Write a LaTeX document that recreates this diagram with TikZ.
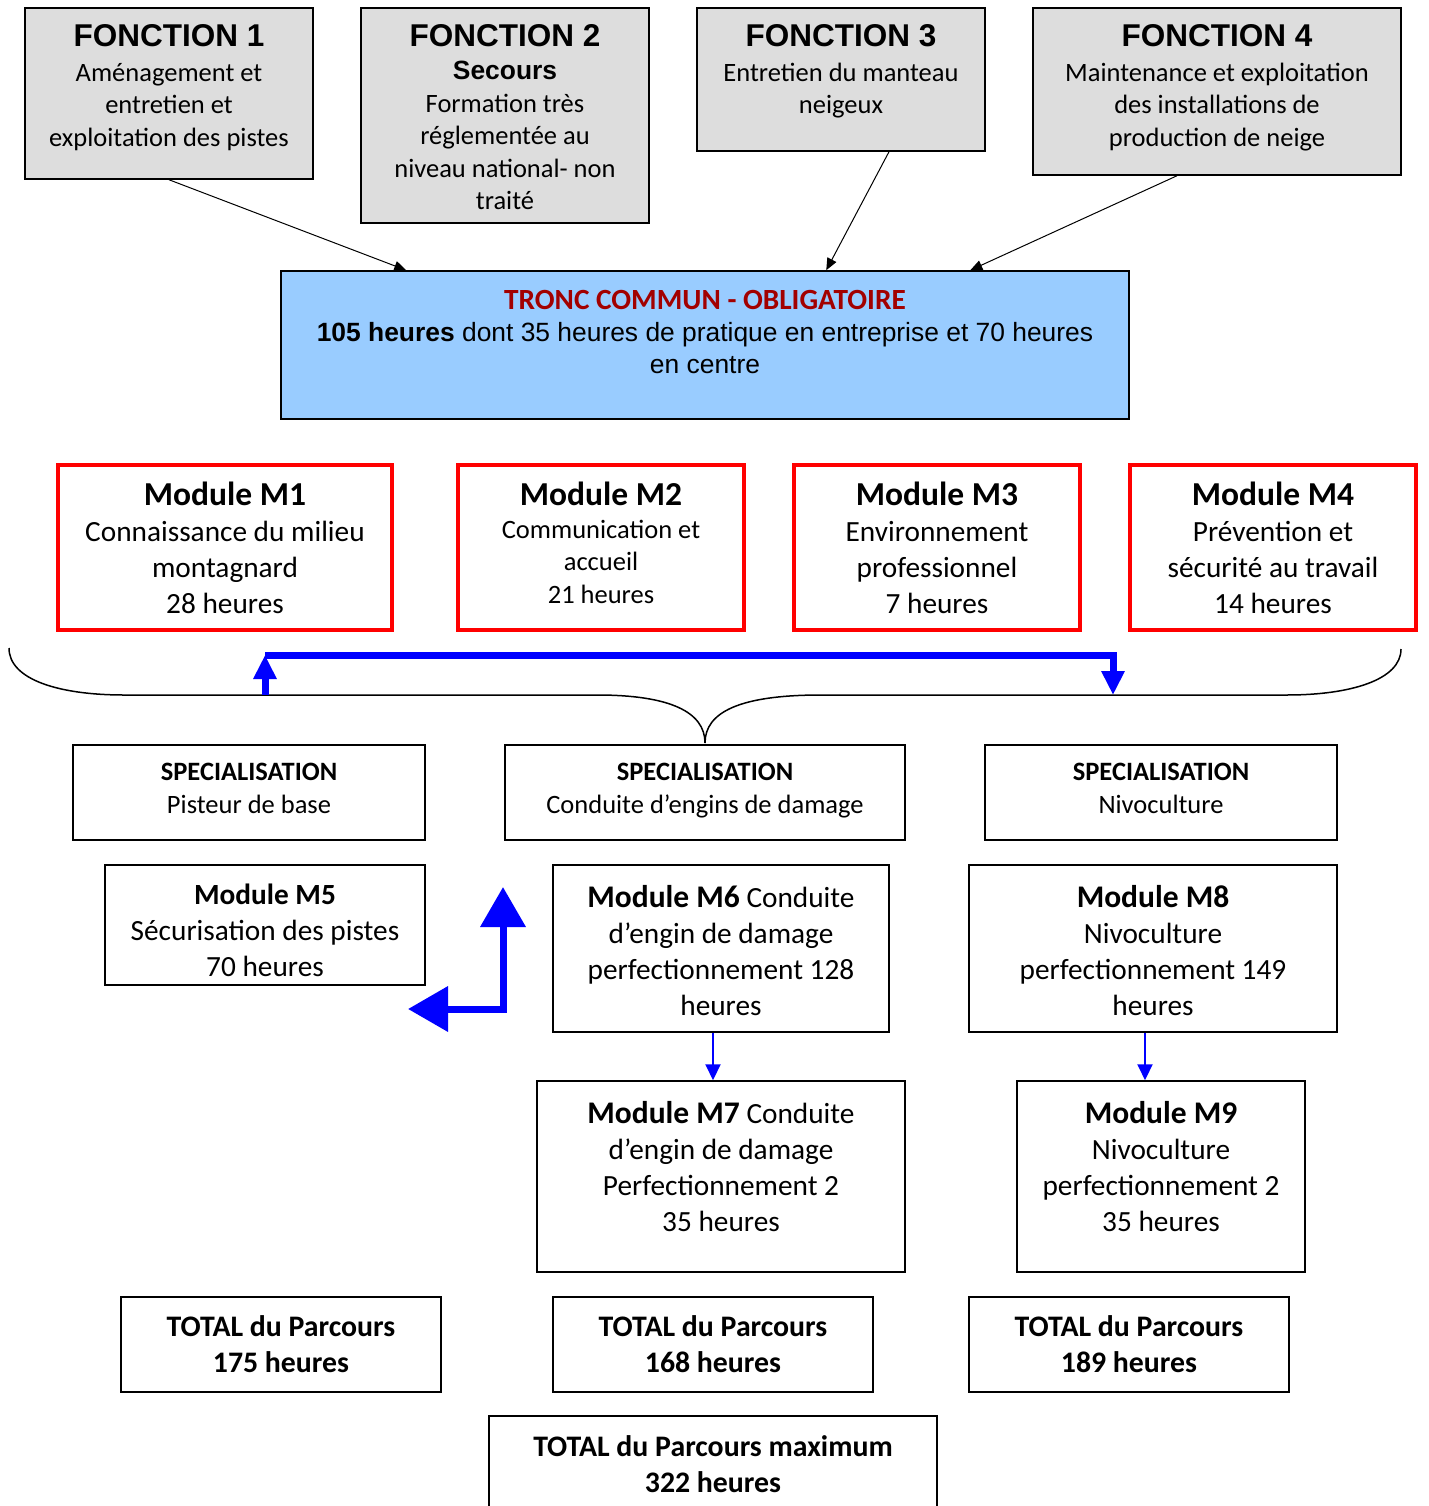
\documentclass[tikz,border=0pt]{standalone}
\usepackage{fontspec}
\setmainfont{Carlito}
\newfontfamily\arialfont{Liberation Sans}
\usepackage{xcolor}
\usetikzlibrary{arrows.meta}
\definecolor{boxgray}{HTML}{DDDDDD}
\definecolor{troncblue}{HTML}{99CCFF}
\definecolor{darkred}{HTML}{A20000}

% fixed size box, text from the top: width, height, top pad, text
\newcommand{\cellbox}[4]{\parbox[c][#2pt][t]{#1pt}{\centering\vspace*{#3pt}#4}}
\newcommand{\ftitle}{\arialfont\bfseries\fontsize{31.5}{33}\selectfont}
\newcommand{\fsmall}{\fontsize{26.5}{32.5}\selectfont}
\newcommand{\fbody}{\fontsize{29.3}{36}\selectfont}
\newcommand{\mtitle}{\fontsize{33.5}{36}\selectfont\bfseries}
\newcommand{\mtitleb}{\fontsize{31.5}{36}\selectfont\bfseries}
\newcommand{\ttotal}{\fontsize{29.8}{36}\selectfont\bfseries}

\tikzset{
  fonction/.style={draw, line width=1.5pt, fill=boxgray, inner sep=0pt},
  troncbox/.style={draw, line width=1.5pt, fill=troncblue, inner sep=0pt},
  module/.style={draw=red, line width=4.5pt, inner sep=0pt},
  plainbox/.style={draw, line width=1.5pt, inner sep=0pt},
  link/.style={-{Triangle[length=12pt,width=10pt]}, line width=1pt},
  thinblue/.style={blue, line width=2pt, -{Triangle[length=16pt,width=15pt]}},
  thickblue/.style={blue, line width=7pt, -{Triangle[length=24pt,width=22pt]}},
  bigblue/.style={blue, line width=7pt, {Triangle[length=40pt,width=44pt]}-{Triangle[length=40pt,width=44pt]}},
}

\begin{document}
\begin{tikzpicture}[x=1pt, y=-1pt, font=\fsmall]
  \useasboundingbox (0,0) rectangle (1428,1506);
  % Fonctions
  \node[fonction] (f1) at (169,93.5) {\cellbox{288}{171}{16.5}{{\ftitle FONCTION 1}\\[2.5pt] Aménagement et\\ entretien et\\ exploitation des pistes}};
  \node[fonction] (f2) at (505,115.5) {\cellbox{288}{215}{16.5}{{\ftitle FONCTION 2}\\[1pt] {\arialfont\bfseries\fontsize{26.4}{32}\selectfont Secours}\\ Formation très\\ réglementée au\\ niveau national- non\\ traité}};
  \node[fonction] (f3) at (841,79.5) {\cellbox{288}{143}{16.5}{{\ftitle FONCTION 3}\\[2.5pt] Entretien du manteau\\ neigeux}};
  \node[fonction] (f4) at (1217,91.5) {\cellbox{368}{167}{16.5}{{\ftitle FONCTION 4}\\[2.5pt] Maintenance et exploitation\\ des installations de\\ production de neige}};
  % Tronc commun
  \node[troncbox] (tronc) at (705,345) {\cellbox{848}{148}{19.5}{{\fontsize{29.3}{32}\selectfont\bfseries\color{darkred}TRONC COMMUN - OBLIGATOIRE}\\ {\arialfont\fontsize{26.4}{32}\selectfont\textbf{105 heures} dont 35 heures de pratique en entreprise et 70 heures\\[-1pt] en centre}}};
  \draw[link] (f1.south) -- ([xshift=126pt]tronc.north west);
  \draw[link] ([xshift=48pt]f3.south) -- ([xshift=546pt]tronc.north west);
  \draw[link] ([xshift=-40pt]f4.south) -- ([xshift=690pt]tronc.north west);
  % Modules M1-M4
  \node[module] (m1) at (225,547.5) {\cellbox{334}{165}{17}{{\mtitle Module M1}\\ \fbody Connaissance du milieu\\ montagnard\\ 28 heures}};
  \node[module] (m2) at (601,547.5) {\cellbox{286}{165}{17}{{\mtitle Module M2}\\ Communication et\\ accueil\\ 21 heures}};
  \node[module] (m3) at (937,547.5) {\cellbox{286}{165}{17}{{\mtitle Module M3}\\ \fbody Environnement\\ professionnel\\ 7 heures}};
  \node[module] (m4) at (1273,547.5) {\cellbox{286}{165}{17}{{\mtitle Module M4}\\ \fbody Prévention et\\ sécurité au travail\\ 14 heures}};
  % Accolade
  \draw[line width=1.5pt] (9,648) .. controls (9,680) and (60,695) .. (124,695) -- (597,695)
    .. controls (670,695) and (705,712) .. (705,743)
    .. controls (705,712) and (740,695) .. (821,695) -- (1287,695)
    .. controls (1350,695) and (1401,680) .. (1401,649);
  \coordinate (braceL) at (265,695);
  \coordinate (loopL) at (265,655);
  \coordinate (braceR) at (1113,695);
  \draw[thickblue] (braceL) -- (loopL);
  \draw[thickblue] (loopL) -| (braceR);
  % Specialisations
  \node[plainbox] (s1) at (249,792.5) {\cellbox{352}{95}{18.5}{\textbf{SPECIALISATION}\\ Pisteur de base}};
  \node[plainbox] (s2) at (705,792.5) {\cellbox{400}{95}{18.5}{\textbf{SPECIALISATION}\\ Conduite d’engins de damage}};
  \node[plainbox] (s3) at (1161,792.5) {\cellbox{352}{95}{18.5}{\textbf{SPECIALISATION}\\ Nivoculture}};
  % Modules M5-M9
  \node[plainbox] (m5) at (265,925) {\cellbox{320}{120}{19}{\fbody\textbf{Module M5}\\ Sécurisation des pistes\\ 70 heures}};
  \node[plainbox] (m6) at (721,948.5) {\cellbox{336}{167}{20}{\fbody{\mtitleb Module M6} Conduite\\ d’engin de damage\\ perfectionnement 128\\ heures}};
  \node[plainbox] (m8) at (1153,948.5) {\cellbox{368}{167}{20}{\fbody{\mtitleb Module M8}\\ Nivoculture\\ perfectionnement 149\\ heures}};
  \node[plainbox] (m7) at (721,1176.5) {\cellbox{368}{191}{20}{\fbody{\mtitleb Module M7} Conduite\\ d’engin de damage\\ Perfectionnement 2\\ 35 heures}};
  \node[plainbox] (m9) at (1161,1176.5) {\cellbox{288}{191}{20}{\fbody{\mtitleb Module M9}\\ Nivoculture\\ perfectionnement 2\\ 35 heures}};
  \draw[thinblue] ([xshift=-8pt]m6.south) -- ([xshift=-8pt]m7.north);
  \draw[thinblue] ([xshift=-8pt]m8.south) -- ([xshift=-16pt]m9.north);
  \coordinate (upTip) at (503,887);
  \coordinate (leftTip) at (408,1009);
  \draw[bigblue] (upTip) |- (leftTip);
  % Totaux
  \node[plainbox] (t1) at (281,1344.5) {\cellbox{320}{95}{19}{\ttotal TOTAL du Parcours\\ 175 heures}};
  \node[plainbox] (t2) at (713,1344.5) {\cellbox{320}{95}{19}{\ttotal TOTAL du Parcours\\ 168 heures}};
  \node[plainbox] (t3) at (1129,1344.5) {\cellbox{320}{95}{19}{\ttotal TOTAL du Parcours\\ 189 heures}};
  \node[plainbox] (tmax) at (713,1464) {\cellbox{448}{96}{20}{\ttotal TOTAL du Parcours maximum\\ 322 heures}};
\end{tikzpicture}
\end{document}
